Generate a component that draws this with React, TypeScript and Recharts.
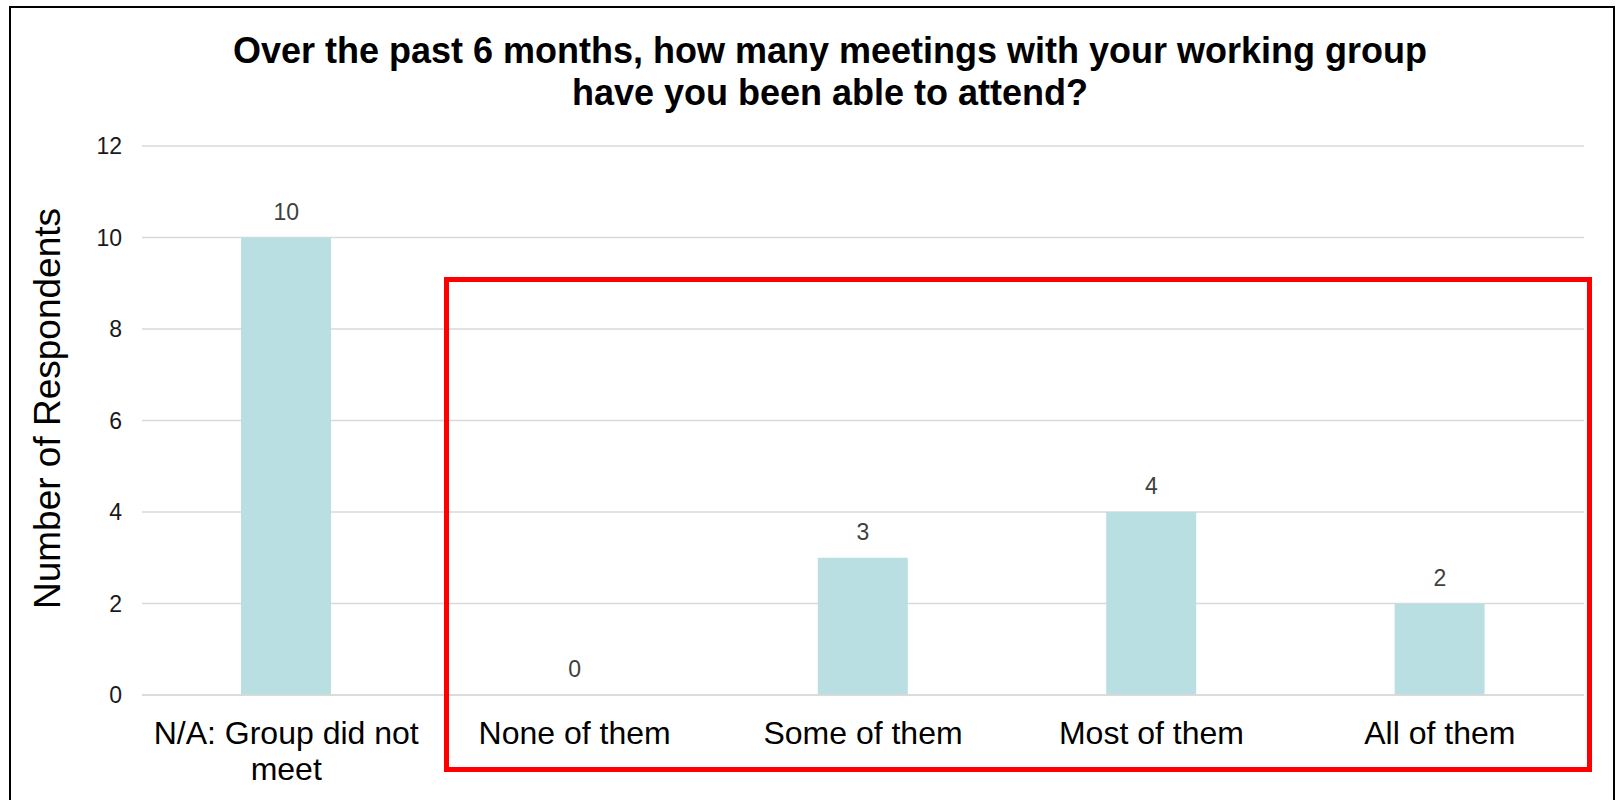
import React from 'react';
import { ComposedChart, Bar, Line, XAxis, YAxis, CartesianGrid, LabelList } from 'recharts';

const categories = ['N/A: Group did not meet', 'None of them', 'Some of them', 'Most of them', 'All of them'];
const respondents = [10, 0, 3, 4, 2];
const yTicks = [0, 2, 4, 6, 8, 10, 12];

const FONT = '"Liberation Sans", Arial, sans-serif';
const TICK_FONT_SIZE = 32;

const data = categories.map((category, i) => ({ category, value: respondents[i] }));

// split a label into lines that fit the category band
let measureCtx: CanvasRenderingContext2D | null = null;
const wrapText = (text: string, maxWidth: number) => {
  if (!measureCtx) {
    measureCtx = document.createElement('canvas').getContext('2d');
  }
  const ctx = measureCtx!;
  ctx.font = `${TICK_FONT_SIZE}px ${FONT}`;
  const words = text.split(' ');
  const lines: string[] = [];
  let current = '';
  words.forEach((w) => {
    const next = current ? current + ' ' + w : w;
    if (current && ctx.measureText(next).width > maxWidth) {
      lines.push(current);
      current = w;
    } else {
      current = next;
    }
  });
  if (current) lines.push(current);
  return lines;
};

const CategoryTick = (props: any) => {
  const { x, y, payload } = props;
  const lines = wrapText(String(payload.value), 275);
  return (
    <text
      x={x}
      y={y}
      textAnchor="middle"
      fill="#000"
      fontSize={TICK_FONT_SIZE}
      fontFamily={FONT}
    >
      {lines.map((line, i) => (
        <tspan key={i} x={x} dy={i === 0 ? 22 : 36}>
          {line}
        </tspan>
      ))}
    </text>
  );
};

const YTitle = (props: any) => {
  const vb = props.viewBox || { x: 0, y: 0, width: 0, height: 0 };
  const cx = vb.x + 60;
  const cy = vb.y + vb.height / 2 - 12;
  return (
    <text
      x={cx}
      y={cy}
      transform={`rotate(-90, ${cx}, ${cy})`}
      textAnchor="middle"
      fontSize={37}
      fill="#000"
      fontFamily={FONT}
    >
      Number of Respondents
    </text>
  );
};

const App: React.FC = () => {
  return (
    <div
      style={{
        position: 'absolute',
        left: 0,
        top: 0,
        width: 1618,
        height: 800,
        overflow: 'hidden',
        background: '#fff',
        fontFamily: FONT,
      }}
    >
      {/* frame around the whole chart */}
      <div
        style={{
          position: 'absolute',
          left: 9,
          top: 6,
          width: 1606,
          height: 830,
          border: '2px solid #000',
          boxSizing: 'border-box',
        }}
      />

      <div
        style={{
          position: 'absolute',
          left: 28,
          top: 30,
          width: 1604,
          textAlign: 'center',
          fontWeight: 'bold',
          fontSize: 36,
          lineHeight: '42px',
          color: '#000',
        }}
      >
        Over the past 6 months, how many meetings with your working group
        <br />
        have you been able to attend?
      </div>

      <div style={{ position: 'absolute', left: 0, top: 0 }}>
        <ComposedChart
          width={1618}
          height={800}
          data={data}
          margin={{ top: 146, right: 34, bottom: 25, left: 0 }}
        >
          <CartesianGrid vertical={false} stroke="#d9d9d9" strokeWidth={1.5} />
          <XAxis
            dataKey="category"
            height={80}
            axisLine={{ stroke: '#d9d9d9', strokeWidth: 1.5 }}
            tickLine={false}
            tickMargin={21}
            interval={0}
            tick={<CategoryTick />}
          />
          <YAxis
            width={142}
            domain={[0, 12]}
            ticks={yTicks}
            axisLine={false}
            tickLine={false}
            tickMargin={14}
            tick={{ fill: '#1a1a1a', fontSize: 23, fontFamily: FONT }}
            label={{ content: <YTitle /> }}
          />
          <Bar dataKey="value" fill="#badfe3" barSize={90} isAnimationActive={false} />
          {/* invisible series that carries the value labels (the zero bar has none of its own) */}
          <Line
            dataKey="value"
            stroke="none"
            dot={false}
            activeDot={false}
            isAnimationActive={false}
          >
            <LabelList
              dataKey="value"
              position="top"
              offset={18}
              fill="#404040"
              fontSize={23}
              fontFamily={FONT}
              formatter={(v: any) => String(v)}
            />
          </Line>
        </ComposedChart>
      </div>

      {/* red highlight box around the groups that did meet */}
      <div
        style={{
          position: 'absolute',
          left: 444,
          top: 277,
          width: 1148,
          height: 495,
          border: '5px solid #ff0000',
          boxSizing: 'border-box',
        }}
      />
    </div>
  );
};

export default App;
